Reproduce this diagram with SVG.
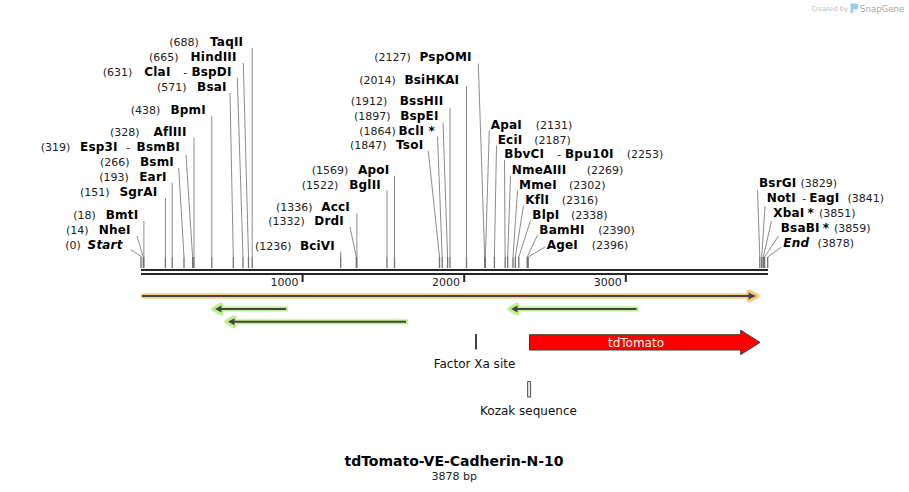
<svg xmlns="http://www.w3.org/2000/svg" width="909" height="492" viewBox="0 0 909 492">
<style>
text{font-family:"DejaVu Sans","Verdana",sans-serif}
.n{font-size:11px;fill:#222}
.e{font-size:12px;font-weight:bold;fill:#000;letter-spacing:0.2px}
.it{font-style:italic}
.end{text-anchor:end}
.mid{text-anchor:middle}
.ld{stroke:#8c8c8c;stroke-width:1;fill:none}
.st{stroke:#727272;stroke-width:1.3;fill:none}
.fl{font-size:12px;fill:#111}
.haloO{stroke:#fac77c;fill:#fac77c;stroke-width:5;stroke-linejoin:round;stroke-linecap:butt}
.haloG{stroke:#bdf08e;fill:#bdf08e;stroke-width:5;stroke-linejoin:round;stroke-linecap:butt}
.core{stroke:#454545;stroke-width:2;fill:none}
.head{fill:#454545}
</style>

<!-- watermark -->
<g id="watermark">
<text x="811.5" y="11" style="font-size:6.6px;fill:#b8b8b8">Created by</text>
<path d="M850.5,3.5 h5 a3,3 0 0 1 0,6 h-2.5 v3.5 h-2.5 z" fill="#8fd0ee"/>
<text x="860" y="12" style="font-size:8.6px;fill:#a8a8a8">SnapGene</text>
</g>

<!-- backbone -->
<g id="backbone">
<rect x="141" y="269" width="627" height="2" fill="#262626"/>
<rect x="141" y="273" width="627" height="2" fill="#262626"/>
<rect x="301.6" y="275" width="2" height="7" fill="#262626"/>
<rect x="463.2" y="275" width="2" height="7" fill="#262626"/>
<rect x="624.8" y="275" width="2" height="7" fill="#262626"/>
<text class="n end" x="298.5" y="286">1000</text>
<text class="n end" x="460" y="286">2000</text>
<text class="n end" x="621.7" y="286">3000</text>
</g>

<!-- connectors: leader lines and stubs -->
<g id="connectors">
<path class="ld" d="M252.2,48V257 M243.3,63L248.5,257 M237.3,78L243,257 M230,93L233.3,257 M211.8,116V257 M194,137.5V257 M186,155L192.6,257 M178.7,168L184,257 M172.2,183V257 M165.4,198V257 M143.9,221V257 M137,236L143.3,257 M130.7,249.5L141,256.5"/>
<path class="ld" d="M478.3,63.5L484.7,257 M466.5,86V257 M450,108V257 M443,122.5L447.6,257 M437.5,136.5L442.2,257 M428.3,151L439.5,257 M394.5,176V257 M387,190.5V257 M356.9,213V257 M350,227L356.3,257 M340.7,251.5V257"/>
<path class="ld" d="M489.3,130.5L485.4,257 M496.5,145.5L494.4,257 M504.5,160L505.1,257 M510.5,175.5L507.7,257 M517.5,190.5L513,257 M523.5,205.5L515.3,257 M530.5,220.5L518.8,257 M537.5,235L527.2,257 M545,247L528.2,257"/>
<path class="ld" d="M757.5,190.5L759.8,257 M765,206L761.7,257 M771.5,221L763.3,257 M778.5,236L764.6,257 M781.5,247L767.7,257"/>
<path class="st" d="M141,256.5V268 M143.3,257V268 M143.9,257V268 M165.4,257V268 M172.2,257V268 M184,257V268 M192.6,257V268 M194,257V268 M211.8,257V268 M233.3,257V268 M243,257V268 M248.5,257V268 M252.2,257V268 M340.7,257V268 M356.3,257V268 M356.9,257V268 M387,257V268 M394.5,257V268 M439.5,257V268 M442.2,257V268 M447.6,257V268 M450,257V268 M466.5,257V268 M484.7,257V268 M485.4,257V268 M494.4,257V268 M505.1,257V268 M507.7,257V268 M513,257V268 M515.3,257V268 M518.8,257V268 M527.2,257V268 M528.2,257V268 M759.8,257V268 M761.7,257V268 M763.3,257V268 M764.6,257V268 M767.7,257V268"/>
</g>

<!-- left labels -->
<g id="TaqII"><text class="n" x="169.3" y="46">(688)</text><text class="e end" x="243.3" y="46">TaqII</text></g>
<g id="HindIII"><text class="n" x="149" y="60.5">(665)</text><text class="e end" x="236.7" y="60.5">HindIII</text></g>
<g id="ClaI"><text class="n" x="102.7" y="76">(631)</text><text class="e" x="144.3" y="76">ClaI</text><text class="n" x="183.2" y="76">-</text><text class="e end" x="231.7" y="76">BspDI</text></g>
<g id="BsaI"><text class="n" x="157" y="91">(571)</text><text class="e end" x="226.7" y="91">BsaI</text></g>
<g id="BpmI"><text class="n" x="130.7" y="113.5">(438)</text><text class="e end" x="206" y="113.5">BpmI</text></g>
<g id="AflIII"><text class="n" x="110" y="135.5">(328)</text><text class="e end" x="186.7" y="135.5">AflIII</text></g>
<g id="Esp3I"><text class="n" x="40.7" y="151">(319)</text><text class="e" x="80" y="151">Esp3I</text><text class="n" x="126.2" y="151">-</text><text class="e end" x="180" y="151">BsmBI</text></g>
<g id="BsmI"><text class="n" x="100" y="166">(266)</text><text class="e end" x="174" y="166">BsmI</text></g>
<g id="EarI"><text class="n" x="99.3" y="181">(193)</text><text class="e end" x="166.7" y="181">EarI</text></g>
<g id="SgrAI"><text class="n" x="80" y="196">(151)</text><text class="e end" x="157.3" y="196">SgrAI</text></g>
<g id="BmtI"><text class="n" x="73.3" y="219">(18)</text><text class="e end" x="138.3" y="219">BmtI</text></g>
<g id="NheI"><text class="n" x="66" y="234">(14)</text><text class="e end" x="130.7" y="234">NheI</text></g>
<g id="Start"><text class="n" x="65.3" y="249">(0)</text><text class="e it end" x="122.7" y="249">Start</text></g>

<!-- middle labels -->
<g id="PspOMI"><text class="n" x="374.3" y="61">(2127)</text><text class="e end" x="471.7" y="61">PspOMI</text></g>
<g id="BsiHKAI"><text class="n" x="359.3" y="83.5">(2014)</text><text class="e end" x="459.3" y="83.5">BsiHKAI</text></g>
<g id="BssHII"><text class="n" x="350.7" y="105">(1912)</text><text class="e end" x="443.3" y="105">BssHII</text></g>
<g id="BspEI"><text class="n" x="354" y="120">(1897)</text><text class="e end" x="438.7" y="120">BspEI</text></g>
<g id="BclI"><text class="n" x="359.3" y="134.5">(1864)</text><text class="e end" x="435" y="134.5">BclI *</text></g>
<g id="TsoI"><text class="n" x="350" y="149">(1847)</text><text class="e end" x="423.3" y="149">TsoI</text></g>
<g id="ApoI"><text class="n" x="311.7" y="174">(1569)</text><text class="e end" x="389.3" y="174">ApoI</text></g>
<g id="BglII"><text class="n" x="301.7" y="188.5">(1522)</text><text class="e end" x="381" y="188.5">BglII</text></g>
<g id="AccI"><text class="n" x="276" y="211">(1336)</text><text class="e end" x="350" y="211">AccI</text></g>
<g id="DrdI"><text class="n" x="268.3" y="225">(1332)</text><text class="e end" x="344" y="225">DrdI</text></g>
<g id="BciVI"><text class="n" x="255" y="249.5">(1236)</text><text class="e end" x="335" y="249.5">BciVI</text></g>

<!-- right labels -->
<g id="ApaI"><text class="e" x="490.7" y="128.5">ApaI</text><text class="n" x="535.7" y="128.5">(2131)</text></g>
<g id="EciI"><text class="e" x="497.7" y="143.5">EciI</text><text class="n" x="534.3" y="143.5">(2187)</text></g>
<g id="BbvCI"><text class="e" x="504.3" y="158">BbvCI</text><text class="n" x="557.3" y="158">-</text><text class="e" x="565" y="158">Bpu10I</text><text class="n" x="626.7" y="158">(2253)</text></g>
<g id="NmeAIII"><text class="e" x="511.7" y="173.5">NmeAIII</text><text class="n" x="586.7" y="173.5">(2269)</text></g>
<g id="MmeI"><text class="e" x="519" y="188.5">MmeI</text><text class="n" x="569" y="188.5">(2302)</text></g>
<g id="KflI"><text class="e" x="525.3" y="203.5">KflI</text><text class="n" x="561.7" y="203.5">(2316)</text></g>
<g id="BlpI"><text class="e" x="532.3" y="218.5">BlpI</text><text class="n" x="571" y="218.5">(2338)</text></g>
<g id="BamHI"><text class="e" x="539.3" y="233.5">BamHI</text><text class="n" x="598.3" y="233.5">(2390)</text></g>
<g id="AgeI"><text class="e" x="546.7" y="248.5">AgeI</text><text class="n" x="591.7" y="248.5">(2396)</text></g>

<g id="BsrGI"><text class="e" x="759" y="186.7">BsrGI</text><text class="n" x="800.5" y="186.7">(3829)</text></g>
<g id="NotI"><text class="e" x="766.7" y="201.7">NotI</text><text class="n" x="802.3" y="201.7">-</text><text class="e" x="809.3" y="201.7">EagI</text><text class="n" x="847.5" y="201.7">(3841)</text></g>
<g id="XbaI"><text class="e" x="773.3" y="216.7">XbaI<tspan dx="3">*</tspan></text><text class="n" x="819" y="216.7">(3851)</text></g>
<g id="BsaBI"><text class="e" x="780.7" y="231.7">BsaBI<tspan dx="3">*</tspan></text><text class="n" x="834" y="231.7">(3859)</text></g>
<g id="End"><text class="e it" x="783.3" y="246.7">End</text><text class="n" x="817.5" y="246.7">(3878)</text></g>

<!-- features -->
<g id="feature-orange">
<path class="haloO" d="M141,296H751"/>
<path class="haloO" d="M749,292L757,296L749,300Z"/>
<path class="core" d="M142,296H750"/>
<path class="head" d="M748.5,292.5L756,296L748.5,299.5Z"/>
</g>
<g id="feature-green-1">
<path class="haloG" d="M288,309H219"/>
<path class="haloG" d="M221,305L214,309L221,313Z"/>
<path class="core" d="M286,309H219"/>
<path class="head" d="M221.5,305.5L215,309L221.5,312.5Z"/>
</g>
<g id="feature-green-2">
<path class="haloG" d="M408,321.7H232"/>
<path class="haloG" d="M234,317.7L227,321.7L234,325.7Z"/>
<path class="core" d="M406,321.7H232"/>
<path class="head" d="M234.5,318.2L228,321.7L234.5,325.2Z"/>
</g>
<g id="feature-green-3">
<path class="haloG" d="M638.5,309H515"/>
<path class="haloG" d="M517,305L510,309L517,313Z"/>
<path class="core" d="M636.5,309H515"/>
<path class="head" d="M517.5,305.5L511,309L517.5,312.5Z"/>
</g>

<g id="factor-xa">
<rect x="475" y="334" width="2" height="15.5" fill="#444"/>
<text class="fl mid" x="474.5" y="367.5">Factor Xa site</text>
</g>
<g id="kozak">
<rect x="527.6" y="381.5" width="3" height="15.5" fill="#e8e8e8" stroke="#555" stroke-width="1"/>
<text class="fl mid" x="528.5" y="414.5">Kozak sequence</text>
</g>
<g id="tdTomato">
<path d="M529.5,334.7H740.7V330.2L760,342.4L740.7,354.6V350H529.5Z" fill="#ff0000" stroke="#3a3a3a" stroke-width="1"/>
<text class="mid" x="636" y="346.5" style="font-size:12px;fill:#fff">tdTomato</text>
</g>

<g id="title">
<text class="mid" x="454" y="466" style="font-size:14px;font-weight:bold;fill:#000">tdTomato-VE-Cadherin-N-10</text>
<text class="mid" x="454.3" y="479.5" style="font-size:11px;fill:#222">3878 bp</text>
</g>
</svg>
